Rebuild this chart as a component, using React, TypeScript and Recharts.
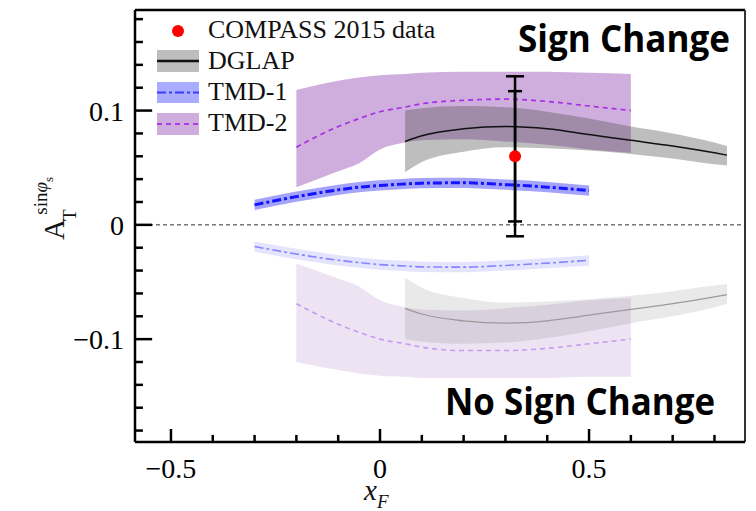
import React from 'react';
import {
  ComposedChart, Area, Line, ErrorBar, XAxis, YAxis, ReferenceLine,
} from 'recharts';

// ---- data ----
const xF = [-0.3, -0.2, -0.1, -0.05, 0, 0.06, 0.1, 0.2, 0.3, 0.4, 0.5, 0.6, 0.7, 0.8, 0.83];

const tmd1Pos = [0.0175, 0.0247, 0.0306, 0.033, 0.0345, 0.0358, 0.0365, 0.0368, 0.0352, 0.033, 0.030, null, null, null, null];
const tmd1PosLow = [0.013, 0.0202, 0.0261, 0.0285, 0.030, 0.0313, 0.032, 0.0323, 0.0307, 0.0285, 0.0255, null, null, null, null];
const tmd1PosHigh = [0.022, 0.0292, 0.0351, 0.0375, 0.039, 0.0403, 0.041, 0.0413, 0.0397, 0.0375, 0.0345, null, null, null, null];

const tmd1Neg = [-0.019, -0.0255, -0.031, -0.033, -0.0348, -0.036, -0.0368, -0.037, -0.0355, -0.0335, -0.031, null, null, null, null];
const tmd1NegLow = [-0.0235, -0.030, -0.0355, -0.0375, -0.0393, -0.0405, -0.0413, -0.0415, -0.040, -0.038, -0.0355, null, null, null, null];
const tmd1NegHigh = [-0.0145, -0.021, -0.0265, -0.0285, -0.0303, -0.0315, -0.0323, -0.0325, -0.031, -0.029, -0.0265, null, null, null, null];

const tmd2Pos = [null, 0.068, 0.086, 0.093, 0.099, 0.103, 0.106, 0.109, 0.110, 0.108, 0.104, 0.100, null, null, null];
const tmd2PosHigh = [null, 0.118, 0.126, 0.129, 0.131, 0.132, 0.133, 0.134, 0.134, 0.134, 0.133, 0.132, null, null, null];
const tmd2PosLow = [null, 0.033, 0.047, 0.054, 0.066, 0.072, 0.074, 0.075, 0.073, 0.070, 0.066, 0.063, null, null, null];

const tmd2Neg = [null, -0.069, -0.087, -0.094, -0.100, -0.104, -0.107, -0.110, -0.110, -0.108, -0.104, -0.100, null, null, null];
const tmd2NegHigh = [null, -0.034, -0.047, -0.054, -0.066, -0.072, -0.074, -0.075, -0.073, -0.070, -0.066, -0.064, null, null, null];
const tmd2NegLow = [null, -0.120, -0.127, -0.130, -0.132, -0.133, -0.134, -0.134, -0.134, -0.134, -0.133, -0.133, null, null, null];

const dglapPos = [null, null, null, null, null, 0.073, 0.078, 0.084, 0.086, 0.084, 0.079, 0.074, 0.069, 0.063, 0.061];
const dglapPosHigh = [null, null, null, null, null, 0.100, 0.102, 0.104, 0.103, 0.099, 0.093, 0.086, 0.080, 0.072, 0.069];
const dglapPosLow = [null, null, null, null, null, 0.046, 0.055, 0.064, 0.068, 0.067, 0.065, 0.062, 0.058, 0.053, 0.052];

const dglapNeg = [null, null, null, null, null, -0.073, -0.078, -0.084, -0.086, -0.084, -0.079, -0.074, -0.069, -0.063, -0.061];
const dglapNegHigh = [null, null, null, null, null, -0.046, -0.055, -0.064, -0.068, -0.067, -0.065, -0.062, -0.058, -0.053, -0.052];
const dglapNegLow = [null, null, null, null, null, -0.100, -0.102, -0.104, -0.103, -0.099, -0.093, -0.086, -0.080, -0.072, -0.069];

const compassX = [0.323];
const compassY = [0.06];
const compassErrTot = [0.07];
const compassErrStat = [0.057];

const xTicks = [-0.5, -0.4, -0.3, -0.2, -0.1, 0, 0.1, 0.2, 0.3, 0.4, 0.5, 0.6, 0.7, 0.8];
const yTicks = [-0.18, -0.16, -0.14, -0.12, -0.1, -0.08, -0.06, -0.04, -0.02, 0, 0.02, 0.04, 0.06, 0.08, 0.1, 0.12, 0.14, 0.16, 0.18];
const xTickLabels: Record<string, string> = { '-0.5': '\u22120.5', '0': '0', '0.5': '0.5' };
const yTickLabels: Record<string, string> = { '-0.1': '\u22120.1', '0': '0', '0.1': '0.1' };

const X_DOMAIN: [number, number] = [-0.586, 0.873];
const Y_DOMAIN: [number, number] = [-0.19, 0.188];

// inward tick-mark lengths, expressed in data units of the perpendicular axis
const Y_TICK_LEN_MAJOR = 0.041;
const Y_TICK_LEN_MINOR = 0.019;
const X_TICK_LEN_MAJOR = 0.0114;
const X_TICK_LEN_MINOR = 0.0062;

const band = (lo: number | null, hi: number | null) => (lo == null || hi == null ? undefined : [lo, hi]);
const val = (v: number | null) => (v == null ? undefined : v);

const rows = xF.map((x, i) => ({
  x,
  tmd1Pos: val(tmd1Pos[i]),
  tmd1PosBand: band(tmd1PosLow[i], tmd1PosHigh[i]),
  tmd1Neg: val(tmd1Neg[i]),
  tmd1NegBand: band(tmd1NegLow[i], tmd1NegHigh[i]),
  tmd2Pos: val(tmd2Pos[i]),
  tmd2PosBand: band(tmd2PosLow[i], tmd2PosHigh[i]),
  tmd2Neg: val(tmd2Neg[i]),
  tmd2NegBand: band(tmd2NegLow[i], tmd2NegHigh[i]),
  dglapPos: val(dglapPos[i]),
  dglapPosBand: band(dglapPosLow[i], dglapPosHigh[i]),
  dglapNeg: val(dglapNeg[i]),
  dglapNegBand: band(dglapNegLow[i], dglapNegHigh[i]),
}));

const compass = compassX.map((x, i) => ({
  x, compass: compassY[i], errTot: compassErrTot[i], errStat: compassErrStat[i],
}));

const SERIF = '"Liberation Serif", "Times New Roman", serif';
const SANS_BOLD = '"Open Sans", "Liberation Sans", sans-serif';

const keyOf = (v: number) => String(Math.round(v * 100) / 100);
const isMajorX = (v: number) => Math.abs(Math.round(v * 100)) % 50 === 0;
const isMajorY = (v: number) => Math.abs(Math.round(v * 100)) % 10 === 0;

const XTick = (props: any) => {
  const { x, y, payload } = props;
  const k = keyOf(payload.value);
  if (!isMajorX(payload.value)) return <g />;
  return (
    <text x={x} y={y + 36} textAnchor="middle" fontFamily={SERIF} fontSize={28} fill="#000">
      {xTickLabels[k]}
    </text>
  );
};

const YTick = (props: any) => {
  const { x, y, payload } = props;
  const k = keyOf(payload.value);
  if (!isMajorY(payload.value)) return <g />;
  return (
    <text x={x - 11} y={y + 10} textAnchor="end" fontFamily={SERIF} fontSize={28} fill="#000">
      {yTickLabels[k]}
    </text>
  );
};

const RedDot = (props: any) => <circle key="compass-dot" cx={props.cx} cy={props.cy} r={6} fill="#ff0000" />;

export default function App() {
  return (
    <div style={{ position: 'absolute', left: 0, top: 0, width: 756, height: 511, background: '#fff' }}>
      <svg width={756} height={511} style={{ position: 'absolute', left: 0, top: 0 }}>
        {/* legend */}
        <circle cx={178} cy={31} r={6} fill="#ff0000" />
        <text x={208} y={38} fontFamily={SERIF} fontSize={26} fill="#111">COMPASS 2015 data</text>

        <rect x={157} y={50} width={42} height={22} fill="#bebebe" />
        <line x1={157} x2={199} y1={61} y2={61} stroke="#111" strokeWidth={2.5} />
        <text x={208} y={69} fontFamily={SERIF} fontSize={26} fill="#111">DGLAP</text>

        <rect x={157} y={82} width={42} height={21} fill="#a9acff" />
        <line x1={157} x2={199} y1={92.5} y2={92.5} stroke="#3a3aff" strokeWidth={2} strokeDasharray="9 3 3 3" />
        <text x={208} y={100} fontFamily={SERIF} fontSize={26} fill="#111">TMD-1</text>

        <rect x={157} y={113} width={42} height={22} fill="#cfaedd" />
        <line x1={157} x2={199} y1={124} y2={124} stroke="#b03ae6" strokeWidth={2} strokeDasharray="5 4" />
        <text x={208} y={131} fontFamily={SERIF} fontSize={26} fill="#111">TMD-2</text>

        {/* annotations */}
        <text x={518} y={52} fontFamily={SANS_BOLD} fontWeight={700} fontSize={38} fill="#000" textLength={212} lengthAdjust="spacingAndGlyphs">Sign Change</text>
        <text x={445} y={415} fontFamily={SANS_BOLD} fontWeight={700} fontSize={38} fill="#000" textLength={270} lengthAdjust="spacingAndGlyphs">No Sign Change</text>

        {/* axis titles */}
        <text x={364} y={500} fontFamily={SERIF} fontSize={29} fontStyle="italic" fill="#111">
          x<tspan fontSize={19} dy={8}>F</tspan>
        </text>
        <text x={64} y={240} transform="rotate(-90 64 240)" fontFamily={SERIF} fontSize={29} fill="#111">
          A<tspan fontSize={19} dx={-2} dy={12}>T</tspan>
          <tspan fontSize={19} dx={-4} dy={-29}>sin</tspan>
          <tspan fontSize={19} fontStyle="italic">φ</tspan>
          <tspan fontSize={13} dy={6}>s</tspan>
        </text>
      </svg>

      <div style={{ position: 'absolute', left: 0, top: 0 }}>
        <ComposedChart
          width={756}
          height={511}
          data={rows}
          margin={{ top: 10, right: 11, bottom: 39, left: 75 }}
        >
          <XAxis
            type="number"
            dataKey="x"
            domain={X_DOMAIN}
            allowDataOverflow
            ticks={xTicks}
            interval={0}
            tick={<XTick />}
            tickLine={false}
            tickSize={0}
            tickMargin={0}
            height={30}
            axisLine={{ stroke: '#000', strokeWidth: 2.5 }}
          />
          <YAxis
            type="number"
            domain={Y_DOMAIN}
            allowDataOverflow
            ticks={yTicks}
            interval={0}
            tick={<YTick />}
            tickLine={false}
            tickSize={0}
            tickMargin={0}
            width={60}
            axisLine={{ stroke: '#000', strokeWidth: 2.5 }}
          />

          {/* negative (no sign change) bands */}
          <Area dataKey="tmd2NegBand" type="monotone" stroke="none" fill="#ede3f3" fillOpacity={1} connectNulls isAnimationActive={false} />
          <Area dataKey="dglapNegBand" type="monotone" stroke="none" fill="#555555" fillOpacity={0.13} connectNulls isAnimationActive={false} />
          <Area dataKey="tmd1NegBand" type="monotone" stroke="none" fill="#e4e4ff" fillOpacity={1} connectNulls isAnimationActive={false} />
          {/* positive (sign change) bands */}
          <Area dataKey="tmd2PosBand" type="monotone" stroke="none" fill="#cfaedd" fillOpacity={1} connectNulls isAnimationActive={false} />
          <Area dataKey="dglapPosBand" type="monotone" stroke="none" fill="#525252" fillOpacity={0.375} connectNulls isAnimationActive={false} />
          <Area dataKey="tmd1PosBand" type="monotone" stroke="none" fill="#a3a3fb" fillOpacity={1} connectNulls isAnimationActive={false} />

          <ReferenceLine y={0} stroke="#777" strokeWidth={1.5} strokeDasharray="4 3" />

          <Line dataKey="dglapNeg" type="monotone" stroke="#9a9a9a" strokeWidth={1.3} dot={false} connectNulls isAnimationActive={false} />
          <Line dataKey="tmd2Neg" type="monotone" stroke="#c79af2" strokeWidth={1.6} strokeDasharray="5 4" dot={false} connectNulls isAnimationActive={false} />
          <Line dataKey="tmd1Neg" type="monotone" stroke="#8585ff" strokeWidth={1.6} strokeDasharray="9 3 3 3" dot={false} connectNulls isAnimationActive={false} />

          <Line dataKey="dglapPos" type="monotone" stroke="#111" strokeWidth={1.5} dot={false} connectNulls isAnimationActive={false} />
          <Line dataKey="tmd2Pos" type="monotone" stroke="#a52ee6" strokeWidth={1.7} strokeDasharray="5 4" dot={false} connectNulls isAnimationActive={false} />
          <Line dataKey="tmd1Pos" type="monotone" stroke="#1414ff" strokeWidth={3} strokeDasharray="9 3 3 3" dot={false} connectNulls isAnimationActive={false} />

          <Line data={compass} dataKey="compass" stroke="none" dot={<RedDot />} activeDot={false} isAnimationActive={false}>
            <ErrorBar dataKey="errTot" direction="y" width={9} stroke="#000" strokeWidth={2.5} />
            <ErrorBar dataKey="errStat" direction="y" width={7} stroke="#000" strokeWidth={2.5} />
          </Line>

          {/* inward tick marks drawn through the chart scales */}
          {yTicks.map((t) => (
            <ReferenceLine
              key={`yt${t}`}
              ifOverflow="visible"
              stroke="#000"
              strokeWidth={2.5}
              segment={[
                { x: X_DOMAIN[0], y: t },
                { x: X_DOMAIN[0] + (isMajorY(t) ? Y_TICK_LEN_MAJOR : Y_TICK_LEN_MINOR), y: t },
              ]}
            />
          ))}
          {xTicks.map((t) => (
            <ReferenceLine
              key={`xt${t}`}
              ifOverflow="visible"
              stroke="#000"
              strokeWidth={2.5}
              segment={[
                { x: t, y: Y_DOMAIN[0] },
                { x: t, y: Y_DOMAIN[0] + (isMajorX(t) ? X_TICK_LEN_MAJOR : X_TICK_LEN_MINOR) },
              ]}
            />
          ))}

          <ReferenceLine y={Y_DOMAIN[1]} stroke="#000" strokeWidth={2.5} />
          <ReferenceLine x={X_DOMAIN[1]} stroke="#333" strokeWidth={2} />
        </ComposedChart>
      </div>
    </div>
  );
}
